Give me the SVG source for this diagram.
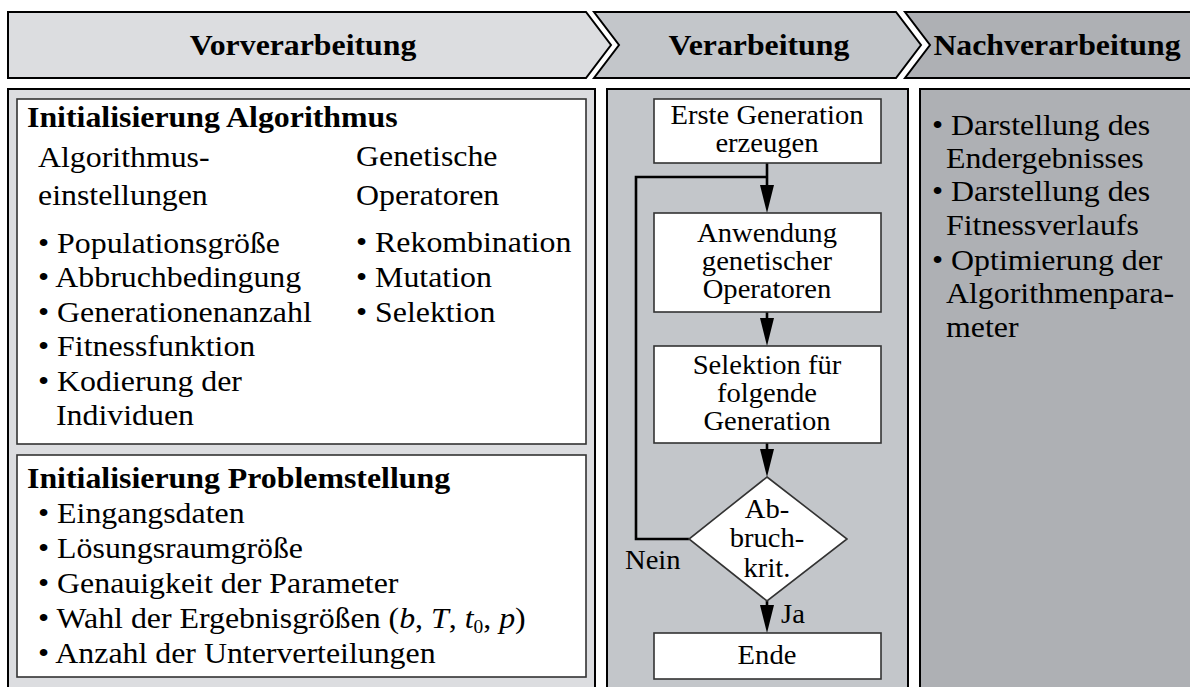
<svg xmlns="http://www.w3.org/2000/svg" width="1190" height="687" viewBox="0 0 1190 687">
<style>
text{font-family:"Liberation Serif","Times New Roman",serif;fill:#000}
.hd{font-size:30px;font-weight:bold;text-anchor:middle}
.bt{font-size:29.5px;font-weight:bold}
.tx{font-size:29.5px}
.fc{font-size:27px;text-anchor:middle}
.fl{font-size:27px}
.outer{stroke:#000;stroke-width:2}
.inner{fill:#fff;stroke:#333;stroke-width:1.6}
.c1{fill:#dcdde0}
.c2{fill:#c3c6ca}
.c3{fill:#aeb0b4}
.con{fill:none;stroke:#000;stroke-width:2.6}
</style>
<defs>
<marker id="ah" viewBox="0 0 28 14" refX="10" refY="7" markerWidth="28" markerHeight="14" markerUnits="userSpaceOnUse" orient="auto">
<path d="M0,0 L28,7 L0,14 z" fill="#000"/>
</marker>
</defs>
<rect width="1190" height="687" fill="#fff"/>

<g id="phase-vorverarbeitung">
<polygon class="c1 outer" points="8,12 586,12 611,45 586,78 8,78"/>
<text class="hd" transform="translate(303,55) scale(1.06,1)">Vorverarbeitung</text>
</g>
<g id="phase-verarbeitung">
<polygon class="c2 outer" points="594,12 896,12 921,45 896,78 594,78 619,45"/>
<text class="hd" transform="translate(759,55) scale(1.06,1)">Verarbeitung</text>
</g>
<g id="phase-nachverarbeitung">
<polygon class="c3 outer" points="905,12 1195,12 1195,78 905,78 930,45"/>
<text class="hd" transform="translate(1057,55) scale(1.06,1)">Nachverarbeitung</text>
</g>

<g id="panel-vorverarbeitung">
<rect class="c1 outer" x="8" y="89" width="587" height="620"/>
</g>
<g id="box-init-algorithmus">
<rect class="inner" x="17" y="99" width="569" height="345"/>
<text class="bt" transform="translate(27,127) scale(1.08,1)">Initialisierung Algorithmus</text>
<text class="tx" transform="translate(38,167) scale(1.08,1)">Algorithmus-</text>
<text class="tx" transform="translate(38,205) scale(1.08,1)">einstellungen</text>
<text class="tx" transform="translate(38,253) scale(1.08,1)">• Populationsgröße</text>
<text class="tx" transform="translate(38,287) scale(1.08,1)">• Abbruchbedingung</text>
<text class="tx" transform="translate(38,322) scale(1.08,1)">• Generationenanzahl</text>
<text class="tx" transform="translate(38,356) scale(1.08,1)">• Fitnessfunktion</text>
<text class="tx" transform="translate(38,391) scale(1.08,1)">• Kodierung der</text>
<text class="tx" transform="translate(56,425) scale(1.08,1)">Individuen</text>
<text class="tx" transform="translate(356,166) scale(1.08,1)">Genetische</text>
<text class="tx" transform="translate(356,205) scale(1.08,1)">Operatoren</text>
<text class="tx" transform="translate(356,252) scale(1.08,1)">• Rekombination</text>
<text class="tx" transform="translate(356,287) scale(1.08,1)">• Mutation</text>
<text class="tx" transform="translate(356,322) scale(1.08,1)">• Selektion</text>
</g>
<g id="box-init-problem">
<rect class="inner" x="17" y="455" width="569" height="222"/>
<text class="bt" transform="translate(27,488) scale(1.08,1)">Initialisierung Problemstellung</text>
<text class="tx" transform="translate(38,523) scale(1.08,1)">• Eingangsdaten</text>
<text class="tx" transform="translate(38,558) scale(1.08,1)">• Lösungsraumgröße</text>
<text class="tx" transform="translate(38,593) scale(1.08,1)">• Genauigkeit der Parameter</text>
<text class="tx" transform="translate(38,628) scale(1.08,1)">• Wahl der Ergebnisgrößen (<tspan font-style="italic">b</tspan>, <tspan font-style="italic">T</tspan>, <tspan font-style="italic">t</tspan><tspan font-size="18" dy="5">0</tspan><tspan dy="-5">, </tspan><tspan font-style="italic">p</tspan>)</text>
<text class="tx" transform="translate(38,663) scale(1.08,1)">• Anzahl der Unterverteilungen</text>
</g>

<g id="panel-verarbeitung">
<rect class="c2 outer" x="607" y="89" width="301" height="620"/>
</g>
<g id="panel-nachverarbeitung">
<rect class="c3 outer" x="920" y="89" width="280" height="620"/>
<text class="tx" transform="translate(932,135) scale(1.08,1)">• Darstellung des</text>
<text class="tx" transform="translate(946,168) scale(1.08,1)">Endergebnisses</text>
<text class="tx" transform="translate(932,201) scale(1.08,1)">• Darstellung des</text>
<text class="tx" transform="translate(946,235) scale(1.08,1)">Fitnessverlaufs</text>
<text class="tx" transform="translate(932,270) scale(1.08,1)">• Optimierung der</text>
<text class="tx" transform="translate(946,303) scale(1.08,1)">Algorithmenpara-</text>
<text class="tx" transform="translate(946,337) scale(1.08,1)">meter</text>
</g>

<g id="connectors">
<polyline class="con" points="689,539 636,539 636,177 767,177"/>
<line class="con" x1="767" y1="163" x2="767" y2="195" marker-end="url(#ah)"/>
<line class="con" x1="767" y1="312" x2="767" y2="328" marker-end="url(#ah)"/>
<line class="con" x1="767" y1="443" x2="767" y2="459" marker-end="url(#ah)"/>
<line class="con" x1="767" y1="601" x2="767" y2="615" marker-end="url(#ah)"/>
<text class="fl" transform="translate(625,569) scale(1.06,1)">Nein</text>
<text class="fl" transform="translate(781,623) scale(1.06,1)">Ja</text>
</g>

<g id="node-erste-generation">
<rect class="inner" x="654" y="99" width="227" height="64"/>
<text class="fc" transform="translate(767,124) scale(1.06,1)">Erste Generation</text>
<text class="fc" transform="translate(767,152) scale(1.06,1)">erzeugen</text>
</g>
<g id="node-anwendung">
<rect class="inner" x="654" y="213" width="227" height="99"/>
<text class="fc" transform="translate(767,242) scale(1.06,1)">Anwendung</text>
<text class="fc" transform="translate(767,270) scale(1.06,1)">genetischer</text>
<text class="fc" transform="translate(767,298) scale(1.06,1)">Operatoren</text>
</g>
<g id="node-selektion">
<rect class="inner" x="654" y="346" width="227" height="97"/>
<text class="fc" transform="translate(767,374) scale(1.06,1)">Selektion für</text>
<text class="fc" transform="translate(767,402) scale(1.06,1)">folgende</text>
<text class="fc" transform="translate(767,430) scale(1.06,1)">Generation</text>
</g>
<g id="node-abbruch">
<polygon class="inner" points="767,477 847,539 767,601 689,539"/>
<text class="fc" transform="translate(767,518) scale(1.06,1)">Ab-</text>
<text class="fc" transform="translate(767,547) scale(1.06,1)">bruch-</text>
<text class="fc" transform="translate(767,577) scale(1.06,1)">krit.</text>
</g>
<g id="node-ende">
<rect class="inner" x="654" y="633" width="227" height="46"/>
<text class="fc" transform="translate(767,664) scale(1.06,1)">Ende</text>
</g>
</svg>
